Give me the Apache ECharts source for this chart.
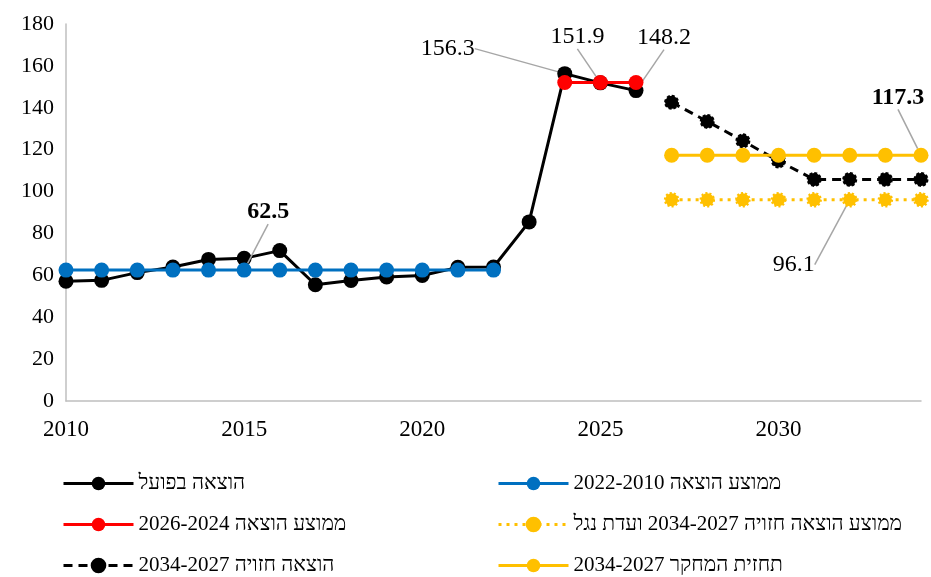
<!DOCTYPE html>
<html><head><meta charset="utf-8">
<script src="https://cdn.jsdelivr.net/npm/echarts@6/dist/echarts.min.js"></script>
<style>html,body{margin:0;padding:0;background:#fff}#c{width:931px;height:577px}</style>
</head><body><div id="c"></div>
<script>
const years = ['2010','2011','2012','2013','2014','2015','2016','2017','2018','2019','2020','2021','2022','2023','2024','2025','2026','2027','2028','2029','2030','2031','2032','2033','2034'];
const yTicks = [0,20,40,60,80,100,120,140,160,180];

const nameActual = 'הוצאה בפועל';
const nameAvgPast = 'ממוצע הוצאה 2022-2010';
const nameAvgRecent = 'ממוצע הוצאה 2026-2024';
const nameNagel = 'ממוצע הוצאה חזויה 2034-2027 ועדת נגל';
const nameForecast = 'הוצאה חזויה 2034-2027';
const nameResearch = 'תחזית המחקר 2034-2027';

const actualStart = '2010';
const actualValues = [57.2, 57.6, 61.3, 64.0, 67.6, 68.1, 71.8, 55.5, 57.5, 59.2, 59.9, 63.8, 64.0, 85.5, 156.3, 151.9, 148.2];
const avgPastStart = '2010';
const avgPastValues = [62.5,62.5,62.5,62.5,62.5,62.5,62.5,62.5,62.5,62.5,62.5,62.5,62.5];
const avgRecentStart = '2024';
const avgRecentValues = [152.1,152.1,152.1];
const forecastStart = '2027';
const forecastValues = [142.6, 133.5, 124.2, 114.6, 105.8, 105.8, 105.8, 105.8];
const nagelStart = '2027';
const nagelValues = [96.1,96.1,96.1,96.1,96.1,96.1,96.1,96.1];
const researchStart = '2027';
const researchValues = [117.3,117.3,117.3,117.3,117.3,117.3,117.3,117.3];

const FONT = "'Liberation Serif','DejaVu Serif','Times New Roman',serif";

function place(start, vals, labels) {
  const s = years.indexOf(start);
  return years.map((y, i) => {
    const k = i - s;
    if (k < 0 || k >= vals.length) return null;
    const v = vals[k];
    if (labels && labels[k]) {
      return { value: v, label: { show: true, fontWeight: labels[k].bold ? 'bold' : 'normal' } };
    }
    return v;
  });
}

function mkSeries(name, data, color, opts) {
  opts = opts || {};
  const offs = opts.offs || {};
  return {
    name: name, type: 'line', data: data,
    symbol: 'circle', symbolSize: opts.symbolSize || 15,
    showAllSymbol: true, connectNulls: false,
    lineStyle: { color: color, width: 3, type: opts.lineType || 'solid' },
    itemStyle: Object.assign({ color: color }, opts.itemStyle || {}),
    z: opts.z || 2,
    label: { show: false, position: 'inside', fontSize: 24, color: '#000', fontFamily: FONT,
      formatter: p => Number(p.value).toFixed(1) },
    labelLine: { show: true, lineStyle: { color: '#A6A6A6', width: 1.5 } },
    labelLayout: function (p) {
      const o = offs[p.dataIndex];
      if (!o) return {};
      return { dx: o[0], dy: o[1] };
    },
    emphasis: { disabled: true },
    animation: false
  };
}

const idx = y => years.indexOf(y);

const series = [
  mkSeries(nameActual, place(actualStart, actualValues, {14:{}, 15:{}, 16:{}}), '#000000', {
    offs: { [idx('2024')]: [-117, -25], [idx('2025')]: [-23, -46], [idx('2026')]: [28, -53] }, z: 2 }),
  mkSeries(nameAvgPast, place(avgPastStart, avgPastValues, {5:{bold:true}}), '#0070C0', {
    offs: { [idx('2015')]: [24, -58] }, z: 3 }),
  mkSeries(nameAvgRecent, place(avgRecentStart, avgRecentValues), '#FF0000', { z: 4 }),
  mkSeries(nameForecast, place(forecastStart, forecastValues), '#000000', {
    lineType: [9, 6], symbolSize: 13, itemStyle: { borderColor: '#000', borderWidth: 2, borderType: [3, 2] }, z: 5 }),
  mkSeries(nameNagel, place(nagelStart, nagelValues, {5:{}}), '#FFC000', {
    lineType: [3, 5], symbolSize: 13, itemStyle: { borderColor: '#FFC000', borderWidth: 2.5, borderType: [2, 2] },
    offs: { [idx('2032')]: [-56, 65] }, z: 6 }),
  mkSeries(nameResearch, place(researchStart, researchValues, {7:{bold:true}}), '#FFC000', {
    offs: { [idx('2034')]: [-23, -58] }, z: 7 })
];

function legendAt(name, left, top) {
  return {
    orient: 'horizontal', itemWidth: 70, itemHeight: 17, itemGap: 6, padding: 0,
    textStyle: { fontSize: 21, color: '#000', fontFamily: FONT },
    lineStyle: { width: 3 },
    selectedMode: false, left: left, top: top, data: [name]
  };
}

const option = {
  animation: false,
  backgroundColor: '#fff',
  textStyle: { fontFamily: FONT },
  grid: { left: 66, right: 10, top: 24, bottom: 176, containLabel: false },
  xAxis: {
    type: 'category', data: years, boundaryGap: false,
    axisLine: { lineStyle: { color: '#BFBFBF', width: 1.5 } },
    axisTick: { show: false },
    axisLabel: { interval: 4, fontSize: 23, color: '#000', fontFamily: FONT, margin: 17 }
  },
  yAxis: {
    type: 'value', min: yTicks[0], max: yTicks[yTicks.length - 1], interval: 20,
    axisLine: { show: true, lineStyle: { color: '#BFBFBF', width: 1.5 } },
    axisTick: { show: false },
    splitLine: { show: false },
    axisLabel: { fontSize: 22, color: '#000', fontFamily: FONT, margin: 12 }
  },
  legend: [
    legendAt(nameActual, 62, 473),
    legendAt(nameAvgRecent, 62, 514),
    legendAt(nameForecast, 62, 555),
    legendAt(nameAvgPast, 497, 473),
    legendAt(nameNagel, 497, 514),
    legendAt(nameResearch, 497, 555)
  ],
  series: series
};

const chart = echarts.init(document.getElementById('c'), null, { renderer: 'canvas' });
chart.setOption(option);
</script>
</body></html>
